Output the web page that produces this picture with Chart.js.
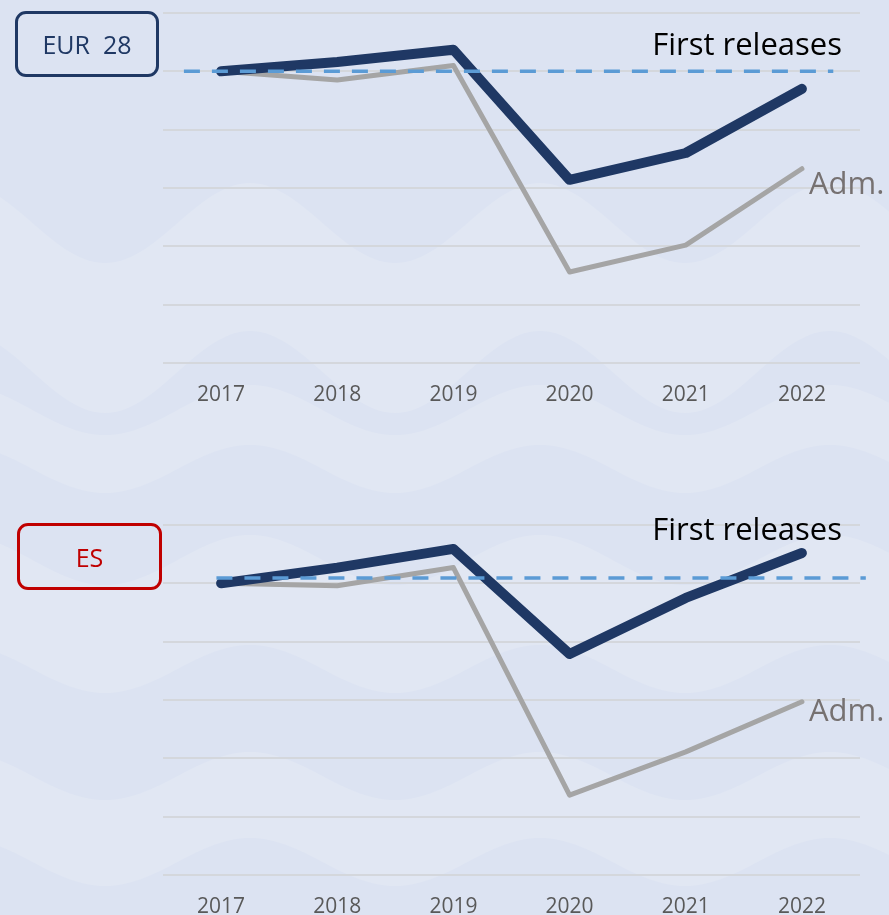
<!DOCTYPE html>
<html>
<head>
<meta charset="utf-8">
<script src="https://cdn.jsdelivr.net/npm/chart.js@4.4.1/dist/chart.umd.min.js"></script>
<style>
html, body { margin: 0; padding: 0; }
body {
    width: 889px; height: 915px; position: relative; overflow: hidden;
    background: #dce3f2; font-family: "Open Sans", sans-serif;
}
#waves { position: absolute; left: 0; top: 0; }
.panel { position: absolute; left: 0; width: 889px; }
.tag {
    position: absolute; box-sizing: border-box; border: 3px solid; border-radius: 11px;
    display: flex; align-items: center; justify-content: center;
    font-size: 25px; white-space: pre;
}
</style>
</head>
<body>
<svg id="waves" width="889" height="915"></svg>
<div class="panel" style="top:0;height:420px"><canvas id="chartEur"></canvas></div>
<div class="panel" style="top:512px;height:403px"><canvas id="chartEs"></canvas></div>
<div class="tag" style="left:15px;top:11px;width:144px;height:66px;border-color:#1f3864;color:#1f3864">EUR  28</div>
<div class="tag" style="left:17px;top:523px;width:145px;height:67px;border-color:#c00000;color:#c00000">ES</div>

<script>
// Data (index, 2017 = 100)
const years = ['2017', '2018', '2019', '2020', '2021', '2022'];

const eurFirst = [100, 101.6, 103.7, 81.4, 86.0, 97.0];
const eurAdm   = [100, 98.5, 101.0, 65.6, 70.2, 83.3];
const eurRef   = [100, 100];
const eurRefX  = [-0.32, 5.27];

const esFirst = [100, 102.7, 105.9, 87.9, 97.5, 105.2];
const esAdm   = [100, 99.6, 102.7, 63.7, 71.1, 79.7];
const esRef   = [100.9, 100.9];
const esRefX  = [-0.04, 5.55];

const yMin = 50, yMax = 110, yStep = 10;

// Background waves (decoration only)
const lightBands = [[223, 40, 372, 41], [410, 25, 469, 24], [560, 25, 669, 24], [776, 24, 862, 24]];

function waveY(x, c, a) {
    return c - a * Math.cos(2 * Math.PI * (x - 250) / 290);
}

function drawWaves() {
    const svg = document.getElementById('waves');
    let html = '';
    lightBands.forEach(b => {
        let d = '';
        for (let x = 0; x <= 890; x += 5) d += (x === 0 ? 'M' : 'L') + x + ' ' + waveY(x, b[0], b[1]).toFixed(1) + ' ';
        for (let x = 890; x >= 0; x -= 5) d += 'L' + x + ' ' + waveY(x, b[2], b[3]).toFixed(1) + ' ';
        html += '<path d="' + d + 'Z" fill="#e1e7f3"/>';
    });
    svg.innerHTML = html;
}

// Series end labels
const seriesText = {
    id: 'seriesText',
    afterDatasetsDraw(chart, args, opts) {
        const ctx = chart.ctx;
        ctx.save();
        ctx.font = '31px "Open Sans"';
        ctx.fillStyle = '#000000';
        ctx.textAlign = 'right';
        ctx.textBaseline = 'alphabetic';
        ctx.fillText('First releases', opts.firstRight, opts.firstBaseline);
        const meta = chart.getDatasetMeta(2);
        const last = meta.data[meta.data.length - 1];
        ctx.fillStyle = '#767171';
        ctx.textAlign = 'left';
        ctx.fillText('Adm.', last.x + 7, last.y + opts.admDy);
        ctx.restore();
    }
};

function makeChart(id, first, adm, ref, refX, axisHeight, textOpts) {
    const refPoints = refX.map((x, i) => ({ x: x, y: ref[i] }));
    return new Chart(document.getElementById(id), {
        type: 'line',
        data: {
            labels: years,
            datasets: [{
                data: refPoints,
                xAxisID: 'xr',
                borderColor: '#5b9bd5',
                borderWidth: 3.5,
                borderDash: [16, 12],
                pointRadius: 0,
                clip: false
            }, {
                data: first,
                borderColor: '#1f3864',
                borderWidth: 10,
                borderCapStyle: 'round',
                borderJoinStyle: 'round',
                pointRadius: 0,
                tension: 0
            }, {
                data: adm,
                borderColor: '#a5a5a5',
                borderWidth: 5,
                borderCapStyle: 'round',
                borderJoinStyle: 'round',
                pointRadius: 0,
                tension: 0
            }]
        },
        options: {
            responsive: true,
            maintainAspectRatio: false,
            animation: false,
            layout: { padding: { left: 163, right: 29, top: 13, bottom: 0 } },
            plugins: {
                legend: { display: false },
                tooltip: { enabled: false },
                seriesText: textOpts
            },
            scales: {
                x: {
                    offset: true,
                    grid: { display: false, drawTicks: false },
                    border: { display: false },
                    ticks: {
                        color: '#595959',
                        font: { family: 'Open Sans', size: 21 },
                        padding: 19,
                        maxRotation: 0
                    },
                    afterFit: s => { s.height = axisHeight; }
                },
                xr: {
                    type: 'linear',
                    display: false,
                    min: -0.5,
                    max: 5.5
                },
                y: {
                    min: yMin,
                    max: yMax,
                    ticks: { display: false, stepSize: yStep },
                    grid: { color: '#d4d7dc', lineWidth: 2, drawTicks: false },
                    border: { display: false },
                    afterFit: s => { s.width = 0; }
                }
            }
        },
        plugins: [seriesText]
    });
}

drawWaves();
makeChart('chartEur', eurFirst, eurAdm, eurRef, eurRefX, 57, { firstRight: 842, firstBaseline: 55, admDy: 25 });
makeChart('chartEs', esFirst, esAdm, esRef, esRefX, 40, { firstRight: 842, firstBaseline: 28, admDy: 19 });
</script>
</body>
</html>
